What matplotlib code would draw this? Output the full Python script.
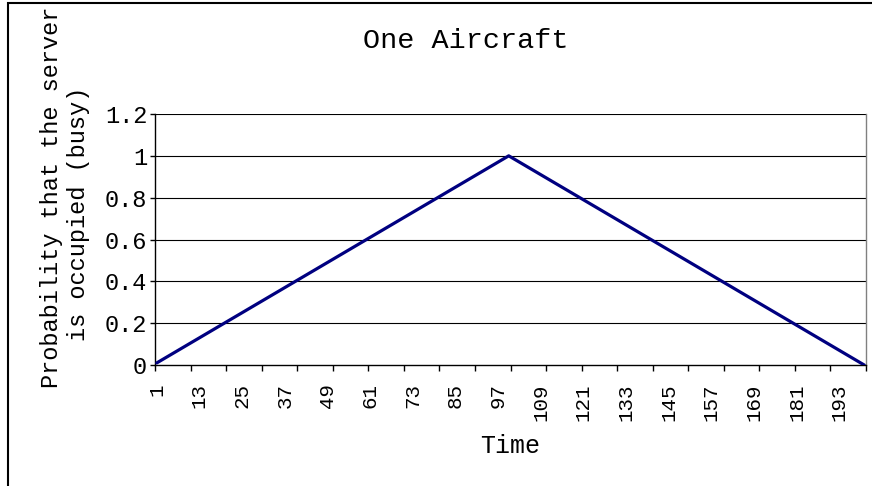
import matplotlib
matplotlib.use("Agg")
import matplotlib.pyplot as plt
import matplotlib.patches as mpatches
import numpy as np

# Time steps 1..200, probability that the server is busy
time_steps = list(range(1, 201))
busy_prob = [
    0.01, 0.02, 0.03, 0.04, 0.05, 0.06, 0.07, 0.08, 0.09, 0.10,
    0.11, 0.12, 0.13, 0.14, 0.15, 0.16, 0.17, 0.18, 0.19, 0.20,
    0.21, 0.22, 0.23, 0.24, 0.25, 0.26, 0.27, 0.28, 0.29, 0.30,
    0.31, 0.32, 0.33, 0.34, 0.35, 0.36, 0.37, 0.38, 0.39, 0.40,
    0.41, 0.42, 0.43, 0.44, 0.45, 0.46, 0.47, 0.48, 0.49, 0.50,
    0.51, 0.52, 0.53, 0.54, 0.55, 0.56, 0.57, 0.58, 0.59, 0.60,
    0.61, 0.62, 0.63, 0.64, 0.65, 0.66, 0.67, 0.68, 0.69, 0.70,
    0.71, 0.72, 0.73, 0.74, 0.75, 0.76, 0.77, 0.78, 0.79, 0.80,
    0.81, 0.82, 0.83, 0.84, 0.85, 0.86, 0.87, 0.88, 0.89, 0.90,
    0.91, 0.92, 0.93, 0.94, 0.95, 0.96, 0.97, 0.98, 0.99, 1.00,
    0.99, 0.98, 0.97, 0.96, 0.95, 0.94, 0.93, 0.92, 0.91, 0.90,
    0.89, 0.88, 0.87, 0.86, 0.85, 0.84, 0.83, 0.82, 0.81, 0.80,
    0.79, 0.78, 0.77, 0.76, 0.75, 0.74, 0.73, 0.72, 0.71, 0.70,
    0.69, 0.68, 0.67, 0.66, 0.65, 0.64, 0.63, 0.62, 0.61, 0.60,
    0.59, 0.58, 0.57, 0.56, 0.55, 0.54, 0.53, 0.52, 0.51, 0.50,
    0.49, 0.48, 0.47, 0.46, 0.45, 0.44, 0.43, 0.42, 0.41, 0.40,
    0.39, 0.38, 0.37, 0.36, 0.35, 0.34, 0.33, 0.32, 0.31, 0.30,
    0.29, 0.28, 0.27, 0.26, 0.25, 0.24, 0.23, 0.22, 0.21, 0.20,
    0.19, 0.18, 0.17, 0.16, 0.15, 0.14, 0.13, 0.12, 0.11, 0.10,
    0.09, 0.08, 0.07, 0.06, 0.05, 0.04, 0.03, 0.02, 0.01, 0.00,
]
x_labels = list(range(1, 201, 12))  # 1, 13, ..., 193
y_ticks = [0, 0.2, 0.4, 0.6, 0.8, 1.0, 1.2]
y_tick_labels = ["0", "0.2", "0.4", "0.6", "0.8", "1", "1.2"]

plt.rcParams["font.family"] = ["Liberation Mono", "DejaVu Sans Mono"]

W, H = 872, 486
fig = plt.figure(figsize=(W / 100, H / 100), dpi=100)
fig.patch.set_facecolor("white")

# chart-area border (left and top visible)
fig.patches.append(mpatches.Rectangle(
    (8 / W, -0.05), 1.1, 1 - 3 / H + 0.05, transform=fig.transFigure,
    fill=False, edgecolor="black", linewidth=1.5, clip_on=False))

ax = fig.add_axes([155 / W, 1 - 365 / H, (866 - 155) / W, (365 - 114) / H])
ax.plot(time_steps, busy_prob, color="#000080", linewidth=2.3,
        solid_capstyle="round", solid_joinstyle="round", zorder=3)

ax.set_xlim(0.5, len(time_steps) + 0.5)
ax.set_ylim(0, 1.2)
ax.set_yticks(y_ticks, y_tick_labels)
ax.set_xticks(x_labels, [str(v) for v in x_labels], rotation=90)
ax.set_xticks(np.arange(0.5, len(time_steps) + 1, 10), minor=True)
ax.tick_params(axis="x", which="major", length=0, pad=13, labelsize=15)
ax.tick_params(axis="x", which="minor", length=4.5, width=1, direction="out")
ax.tick_params(axis="y", length=3.6, width=1, pad=2, labelsize=17)

for v in y_ticks[1:]:
    ax.axhline(v, color="black", linewidth=0.8, zorder=1)

ax.spines["left"].set_color("black")
ax.spines["bottom"].set_color("black")
ax.spines["right"].set_color("#808080")
ax.spines["top"].set_visible(False)
for s in ax.spines.values():
    s.set_linewidth(1)

fig.text(466 / W, 1 - 48 / H, "One Aircraft", ha="center", va="baseline", fontsize=20.5)
fig.text(510 / W, 1 - 453 / H, "Time", ha="center", va="baseline", fontsize=18)
fig.text(52 / W, 1 - 197 / H, "Probability that the server", rotation=90,
         ha="center", va="center", fontsize=17)
fig.text(78 / W, 1 - 214 / H, "is occupied (busy)", rotation=90,
         ha="center", va="center", fontsize=17)

fig.savefig("out.png", dpi=100)
